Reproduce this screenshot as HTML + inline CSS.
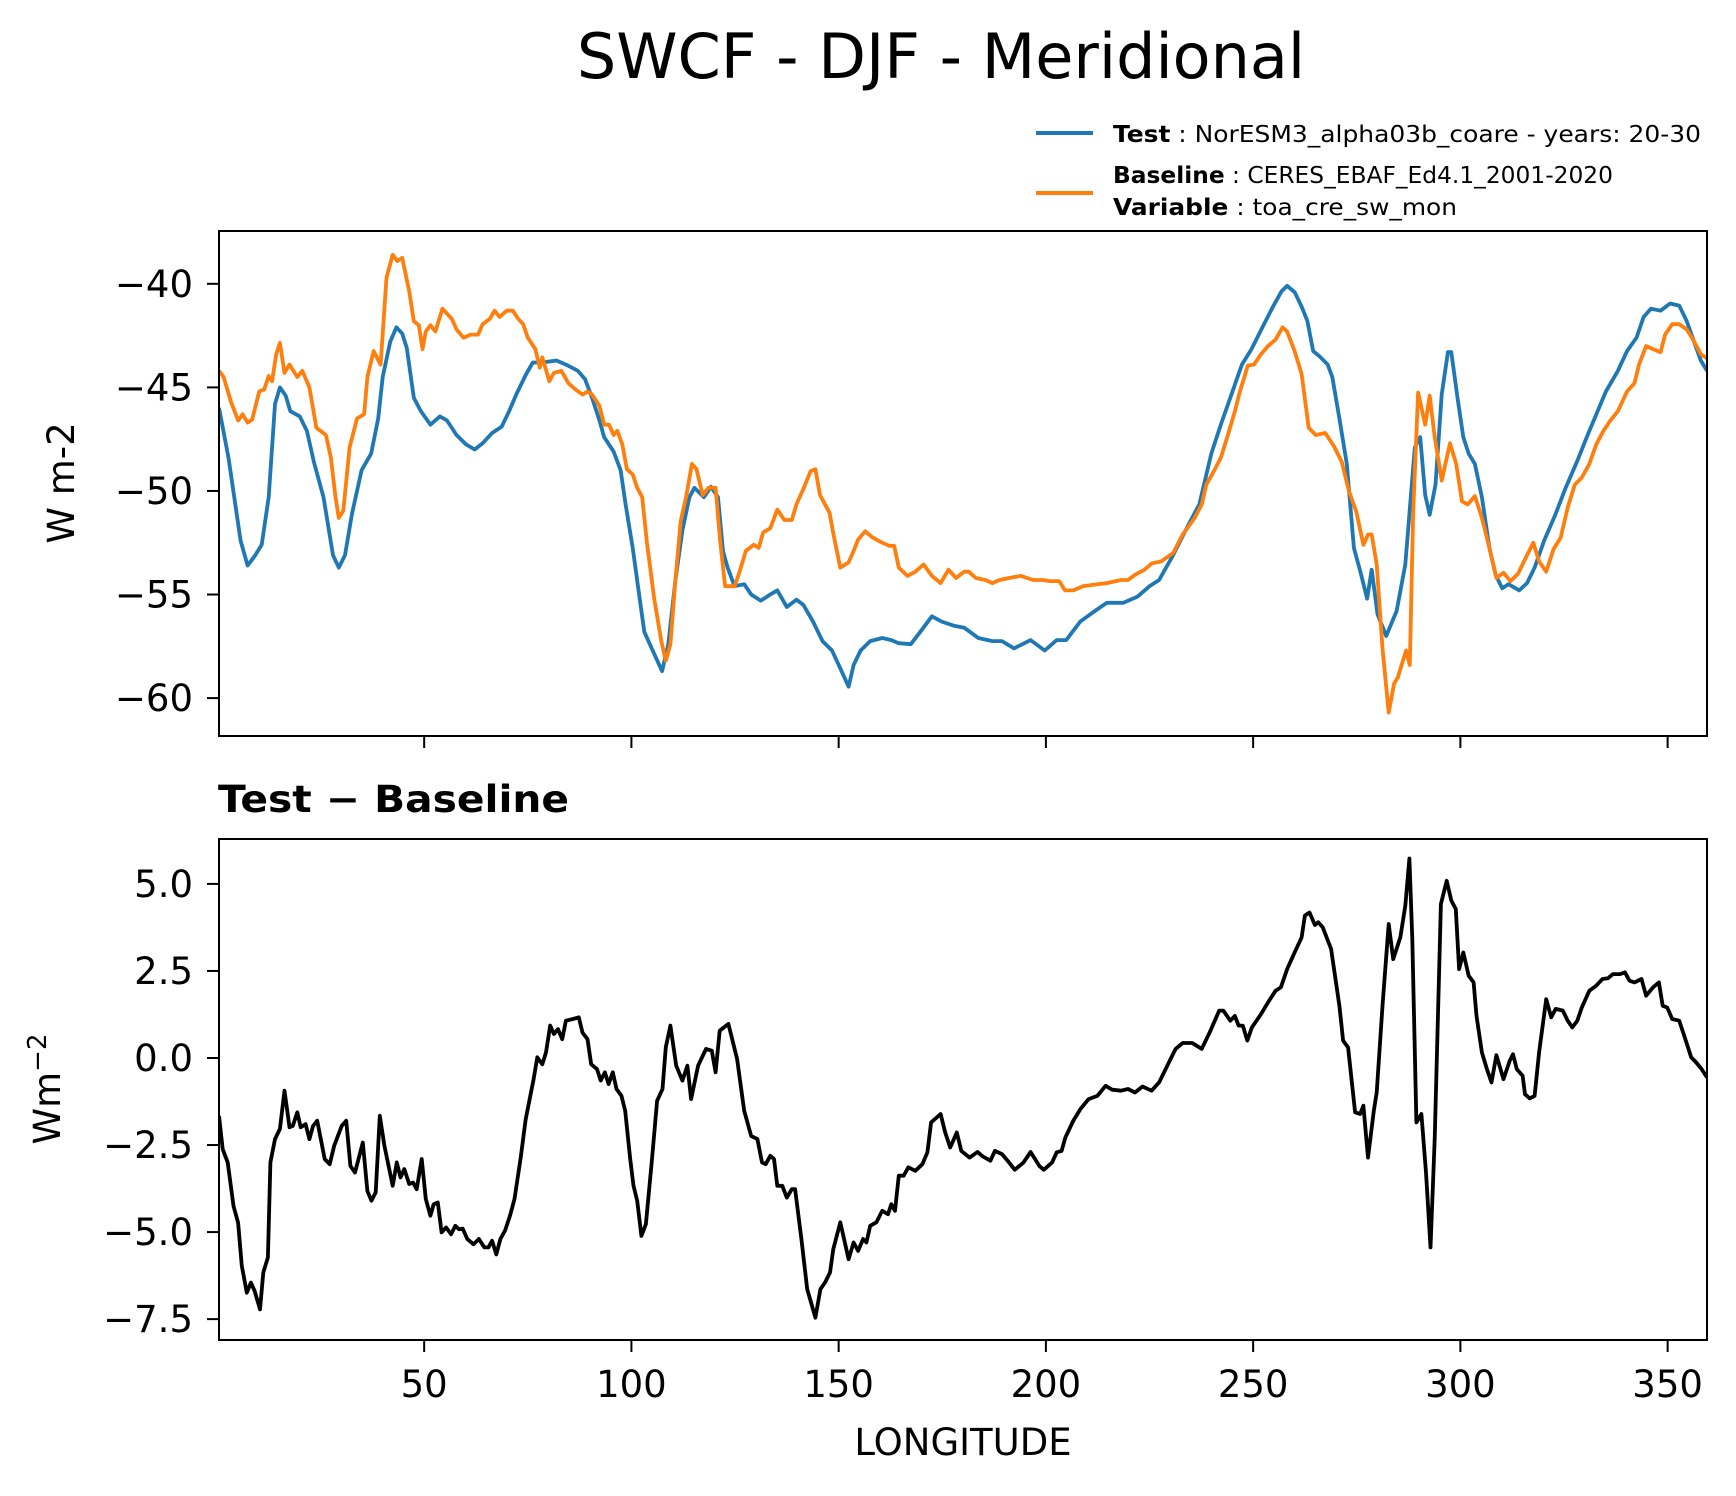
<!DOCTYPE html>
<html><head><meta charset="utf-8"><style>
html,body{margin:0;padding:0;background:#fff;}
svg{display:block;font-family:"DejaVu Sans","Liberation Sans",sans-serif;}
</style></head><body>
<svg id="fig" width="1736" height="1496" viewBox="0 0 1736 1496" xmlns="http://www.w3.org/2000/svg">
<rect width="1736" height="1496" fill="#fff"/>
<text x="941" y="78" font-size="62" text-anchor="middle">SWCF - DJF - Meridional</text>
<g>
<line x1="1036" y1="133" x2="1093" y2="133" stroke="#1f77b4" stroke-width="4"/>
<line x1="1036" y1="193" x2="1093" y2="193" stroke="#ff7f0e" stroke-width="4"/>
<text x="1113" y="142" font-size="23" textLength="588" lengthAdjust="spacingAndGlyphs"><tspan font-weight="bold">Test</tspan> : NorESM3_alpha03b_coare - years: 20-30</text>
<text x="1113" y="183" font-size="23" textLength="500" lengthAdjust="spacingAndGlyphs"><tspan font-weight="bold">Baseline</tspan> : CERES_EBAF_Ed4.1_2001-2020</text>
<text x="1113" y="215" font-size="23" textLength="344" lengthAdjust="spacingAndGlyphs"><tspan font-weight="bold">Variable</tspan> : toa_cre_sw_mon</text>
</g>
<g id="topPanel"></g>
<g id="botPanel"></g>
<text x="218" y="812" font-size="37" font-weight="bold" textLength="351" lengthAdjust="spacingAndGlyphs">Test − Baseline</text>
<text transform="translate(74,483) rotate(-90)" font-size="37" text-anchor="middle">W m-2</text>
<text transform="translate(60,1089) rotate(-90)" font-size="37" text-anchor="middle">Wm<tspan dy="-14" font-size="26">−2</tspan></text>
<text x="963" y="1455" font-size="37" text-anchor="middle">LONGITUDE</text>
</svg>
<script>
const testLon=[0.5,2.8,5.7,7.4,9.1,10.8,12.5,14,15.2,16.6,17.7,20,21.7,23.4,25.7,28,29.4,30.9,32.6,34.9,37.2,38.9,40,41.8,43.3,44.7,45.8,47.5,49.2,51.5,53.8,55.5,57.8,60.1,62.2,64.1,66.4,68.7,70.5,72.2,74.5,76.2,78.5,81.9,84.2,87.1,88.8,90.5,92.3,93.4,95.7,97.4,98.6,100.3,102,103.1,104.9,107.4,108.9,110.6,112.3,114,115.2,117.5,119.2,120.9,122.1,123.2,124.9,127.2,128.9,131.2,133.5,135.2,137.5,139.8,141.5,143.8,146.1,148.4,150.7,152.4,153.6,155.3,157.6,160.5,162.7,164.5,167.4,169.7,172.5,174.8,177.7,180.3,183.7,187.1,189.4,192.3,196.3,199.7,202.6,204.9,208.3,211.8,214.7,218.7,222.1,225,227.3,230.7,234.2,237,239.9,242.2,244.5,247.3,249.6,252.5,254.8,256.9,258.2,260,261.7,263.1,264.5,266,268,269.1,270.8,272.6,274.3,276,277.5,278.6,280,282.1,284.6,286.7,289,290.3,291.5,292.6,294,295.5,297,297.8,299.3,300.7,302,303.5,305.2,307,308.5,310.1,311.6,314.2,316.1,317.9,320.2,323,325.3,328.2,330.5,332.8,335.1,338,340.2,342.5,344.2,346,348.3,350.6,352.8,354.6,356.3,358,359.5];
const testVal=[-45.98,-48.4,-52.4,-53.6,-53.15,-52.6,-50.3,-45.8,-45.0,-45.4,-46.15,-46.4,-47.1,-48.6,-50.3,-53.1,-53.7,-53.1,-51.1,-49.0,-48.2,-46.5,-44.5,-42.8,-42.1,-42.4,-43.1,-45.5,-46.15,-46.8,-46.4,-46.6,-47.3,-47.75,-48.0,-47.7,-47.2,-46.9,-46.15,-45.35,-44.4,-43.8,-43.8,-43.7,-43.9,-44.2,-44.6,-45.5,-46.6,-47.4,-48.1,-49.0,-50.65,-52.75,-55.2,-56.8,-57.6,-58.7,-57.4,-54.35,-51.9,-50.3,-49.85,-50.3,-49.8,-50.3,-52.9,-53.7,-54.6,-54.5,-55.0,-55.3,-55.0,-54.8,-55.6,-55.25,-55.5,-56.3,-57.25,-57.7,-58.7,-59.45,-58.4,-57.7,-57.25,-57.1,-57.2,-57.35,-57.4,-56.8,-56.05,-56.3,-56.5,-56.6,-57.1,-57.25,-57.25,-57.6,-57.2,-57.7,-57.2,-57.2,-56.3,-55.8,-55.4,-55.4,-55.1,-54.6,-54.3,-53.1,-51.7,-50.65,-48.2,-46.8,-45.5,-43.9,-43.15,-42.0,-41.1,-40.35,-40.1,-40.4,-41.1,-41.8,-43.25,-43.5,-43.9,-44.5,-46.5,-48.7,-52.75,-54.0,-55.2,-53.8,-55.95,-57.0,-55.8,-53.55,-47.9,-47.4,-50.2,-51.15,-49.7,-45.35,-43.3,-43.3,-45.5,-47.4,-48.2,-48.7,-50.3,-52.75,-54.05,-54.7,-54.5,-54.8,-54.45,-53.7,-52.4,-51.1,-49.9,-48.55,-47.4,-46.3,-45.2,-44.2,-43.25,-42.6,-41.6,-41.2,-41.3,-40.95,-41.05,-41.8,-42.75,-43.7,-44.2];
const baseLon=[0.5,1.6,3.4,5.1,6.2,7.4,8.5,10.2,11.4,12.5,13.3,14.3,15.2,16.3,17.5,19.4,20.6,22.3,24,26.3,27.5,28.6,29.4,30.5,32,33.8,35.5,36.3,37.8,39.5,40.9,42.4,43.5,44.7,46.4,47.5,48.7,49.6,50.4,51.5,52.7,54.4,56.7,57.8,59.5,61.2,63,64.1,65.8,67,68.2,69.9,71.4,72.7,73.9,75,76.8,77.9,78.5,80.2,81.3,83.1,84.8,86.5,88.2,89.4,90.5,92.3,93.4,94.6,95.7,96.6,97.8,98.9,100.3,101.4,102.6,103.7,105.5,107.2,108.3,109.4,110.6,111.9,113.2,114.6,115.7,117.2,118.6,120.3,121.4,122.6,124.9,126.1,127.6,129.5,130.7,131.8,133.5,135.2,136.9,138.7,139.8,141.5,143.2,144.4,145.5,147.8,148.9,150.4,152.4,153.6,154.7,156.4,158.2,160.5,162.2,163.4,164.5,166.6,168.5,170.5,172.5,174.6,176.5,178.3,180.3,181.4,183.1,185.4,187.1,188.8,191.1,194,196.9,199.2,200.9,203.2,204.6,206.6,208.9,212.4,214.7,218.1,219.8,221.5,223.8,225.5,227.8,230.7,233,235.9,237.6,238.7,240.5,242.2,243.9,245.6,246.8,247.9,248.7,250.2,251.9,253.6,255.4,257.1,258.2,260,261.7,263.4,265.1,267.4,269.5,271.4,273.1,274.9,276.6,277.7,278.6,279.8,281.2,282.7,284,284.9,286.9,287.8,288.6,289.8,291.5,292.6,293.8,295.5,297.5,299,300.4,301.8,303.5,305.2,307,308.7,310.4,312.1,313.9,315.6,317.6,319,320.7,322.5,324.2,325.9,327.6,329.3,331.1,332.8,334.5,336.2,338,340.2,342,343.1,344.8,346.5,348.3,349.4,351.1,352.8,354.6,356.3,358,359.5];
const baseVal=[-44.2,-44.5,-45.7,-46.6,-46.3,-46.7,-46.55,-45.2,-45.1,-44.45,-44.7,-43.4,-42.85,-44.3,-43.9,-44.5,-44.2,-45.0,-46.95,-47.3,-48.4,-50.3,-51.3,-50.95,-47.9,-46.5,-46.3,-44.5,-43.25,-43.9,-39.7,-38.6,-38.9,-38.75,-40.35,-41.8,-42.0,-43.15,-42.3,-42.0,-42.3,-41.2,-41.7,-42.2,-42.6,-42.45,-42.45,-41.95,-41.7,-41.3,-41.6,-41.3,-41.3,-41.7,-41.95,-42.6,-43.15,-44.05,-43.55,-44.7,-44.3,-44.2,-44.8,-45.1,-45.35,-45.2,-45.35,-45.9,-46.8,-46.8,-47.3,-47.1,-47.75,-48.95,-49.2,-49.85,-50.3,-52.4,-55.2,-57.25,-58.2,-57.4,-54.35,-51.45,-50.3,-48.7,-48.95,-50.2,-49.85,-49.85,-52.4,-54.6,-54.6,-53.9,-52.9,-52.6,-52.75,-52.0,-51.8,-50.9,-51.4,-51.4,-50.65,-49.9,-49.05,-48.95,-50.2,-51.05,-52.25,-53.7,-53.45,-52.9,-52.35,-51.95,-52.25,-52.5,-52.65,-52.65,-53.7,-54.1,-53.9,-53.55,-54.1,-54.45,-53.8,-54.2,-53.9,-53.9,-54.2,-54.3,-54.45,-54.3,-54.2,-54.1,-54.3,-54.3,-54.35,-54.35,-54.8,-54.8,-54.6,-54.5,-54.45,-54.3,-54.3,-54.05,-53.8,-53.5,-53.4,-53.0,-52.1,-51.3,-50.65,-49.7,-49.05,-48.4,-47.3,-46.15,-45.2,-44.5,-43.95,-43.9,-43.4,-43.0,-42.7,-42.1,-42.3,-43.25,-44.35,-46.95,-47.3,-47.2,-47.85,-48.6,-50.0,-51.0,-52.6,-52.1,-52.1,-53.55,-57.6,-60.7,-59.3,-59.0,-57.7,-58.4,-51.15,-45.25,-46.8,-45.4,-47.4,-49.5,-47.7,-48.7,-50.5,-50.65,-50.25,-51.3,-52.75,-54.2,-53.95,-54.35,-54.0,-53.3,-52.5,-53.4,-53.9,-52.8,-52.25,-50.8,-49.7,-49.35,-48.7,-47.75,-47.1,-46.6,-46.15,-45.2,-44.8,-43.9,-43.0,-43.15,-43.3,-42.45,-41.95,-41.95,-42.2,-42.75,-43.4,-43.6];
const diffLon=[0.5,1.4,2.6,4,5.1,6,7.2,8.2,9.1,10.4,11.2,12.3,12.9,14,15.2,16.3,17.5,18.3,19.4,20.2,21.4,22.3,23.2,24.2,26,27.2,28.3,30.1,31.2,32.2,33.3,35.2,36.3,37.3,38.3,39.3,40.4,42.4,43.4,44.3,45.2,46.4,47.3,48.2,49.4,50.4,51.5,52.3,53.3,54.2,55.3,56.5,57.5,58.4,59.3,60.4,61.9,63.2,64.5,65.5,66.4,67.4,68.4,69.5,70.7,71.8,73.3,74.5,75.6,76.4,77.3,78.5,79.4,80.4,81.3,82.3,83.3,84.2,85.9,87.3,88.2,89.4,90.3,91.7,92.6,93.6,94.5,95.5,96.4,97.6,98.5,99.7,100.5,101.4,102.4,103.5,104.9,106.2,107.5,108.3,109.4,110.8,112.3,113.5,114.4,116.1,118,119.4,120.3,121.3,123.4,125.5,127.2,128.9,130.4,131.5,132.4,133.5,134.4,135.2,136.4,137.5,138.7,139.5,141,142.4,144.4,145.6,146.7,147.9,148.7,150.4,152.4,153.6,154.7,155.9,156.7,157.6,159.1,160.5,161.9,162.7,163.6,164.5,165.7,166.8,168.5,170.2,171.4,172.3,174.6,175.7,176.9,178.5,179.6,181.6,183.5,184.8,186.6,187.7,189.4,191.1,192.5,194.6,196.3,198.4,199.5,201.5,202.6,203.8,204.7,206.6,208.3,210.3,212.4,214.4,216,218.1,219.8,221.5,223.3,225.5,227.3,229.3,231.3,233,235.3,237.6,239.5,241.8,242.8,244.5,245.6,246.5,247.5,248.6,249.7,251.9,253.6,255.4,256.7,258.2,260,261.7,262.5,263.6,264.9,265.7,266.8,268.8,270.8,271.7,272.9,274.6,275.8,276.6,277.7,279.1,279.8,281.2,282.7,283.8,285.5,286.7,287.7,288.4,289.4,290.6,291.7,292.8,293.8,295.3,296.7,297.8,298.9,299.7,300.7,302,303.2,303.9,305.2,306.4,307.5,308.7,310.4,311.9,312.7,313.6,315,315.6,316.7,317.9,319,320.7,321.9,323,324.7,325.9,327,328.2,329.3,331.1,332.8,334.3,335.6,336.8,338.5,339.7,340.8,342,343.7,344.8,346.5,347.9,348.8,349.9,351.1,352.8,354,355.7,356.9,358.2,359.5];
const diffVal=[-1.66,-2.62,-3.0,-4.25,-4.73,-5.97,-6.74,-6.45,-6.69,-7.22,-6.16,-5.73,-3.0,-2.33,-2.04,-0.94,-1.99,-1.95,-1.56,-1.99,-1.9,-2.33,-1.95,-1.8,-2.9,-3.05,-2.52,-1.95,-1.8,-3.1,-3.29,-2.43,-3.82,-4.1,-3.86,-1.66,-2.52,-3.67,-3.0,-3.43,-3.19,-3.62,-3.58,-3.77,-2.9,-4.05,-4.53,-4.2,-4.15,-5.01,-4.87,-5.06,-4.82,-4.92,-4.9,-5.2,-5.35,-5.2,-5.44,-5.44,-5.25,-5.64,-5.2,-4.96,-4.53,-4.05,-2.86,-1.76,-1.09,-0.61,0.02,-0.18,0.16,0.93,0.69,0.83,0.54,1.07,1.12,1.17,0.73,0.54,-0.18,-0.32,-0.65,-0.41,-0.75,-0.41,-0.89,-1.09,-1.52,-2.9,-3.67,-4.1,-5.11,-4.77,-3.0,-1.23,-0.89,0.31,0.93,-0.22,-0.65,-0.22,-1.18,-0.22,0.26,0.21,-0.41,0.78,0.98,-0.03,-1.52,-2.24,-2.33,-3.0,-3.05,-2.81,-2.9,-3.67,-3.67,-4.01,-3.77,-3.77,-5.2,-6.64,-7.46,-6.64,-6.45,-6.16,-5.49,-4.72,-5.78,-5.3,-5.54,-5.2,-5.3,-4.82,-4.72,-4.39,-4.49,-4.2,-4.39,-3.38,-3.38,-3.14,-3.24,-3.05,-2.71,-1.85,-1.61,-2.14,-2.57,-2.14,-2.67,-2.86,-2.7,-2.83,-2.95,-2.67,-2.76,-3.0,-3.21,-3.0,-2.7,-3.1,-3.21,-3.0,-2.71,-2.67,-2.28,-1.8,-1.47,-1.18,-1.09,-0.8,-0.91,-0.94,-0.89,-0.99,-0.82,-0.94,-0.7,-0.22,0.26,0.43,0.43,0.26,0.73,1.36,1.36,1.07,1.21,0.93,0.93,0.5,0.88,1.26,1.6,1.93,2.03,2.55,3.03,3.46,4.09,4.18,3.82,3.9,3.75,3.13,1.5,0.5,0.3,-1.56,-1.61,-1.37,-2.86,-1.52,-0.99,1.5,3.85,2.84,3.46,4.37,5.73,3.42,-1.85,-1.61,-3.29,-5.44,-2.33,4.42,5.09,4.52,4.28,2.55,3.03,2.36,2.17,1.21,0.16,-0.32,-0.7,0.08,-0.61,-0.08,0.11,-0.32,-0.51,-1.04,-1.16,-1.09,0.16,1.69,1.17,1.41,1.36,1.07,0.88,1.07,1.45,1.93,2.08,2.27,2.29,2.41,2.41,2.46,2.22,2.17,2.27,1.79,2.03,2.17,1.5,1.45,1.12,1.07,0.64,0.02,-0.13,-0.32,-0.56];
const xTicks=[50,100,150,200,250,300,350];
const xTickLabels=["50","100","150","200","250","300","350"];
const topYTicks=[-40,-45,-50,-55,-60];
const topYTickLabels=["−40","−45","−50","−55","−60"];
const botYTicks=[5.0,2.5,0.0,-2.5,-5.0,-7.5];
const botYTickLabels=["5.0","2.5","0.0","−2.5","−5.0","−7.5"];

const NS="http://www.w3.org/2000/svg";
const X0=219,X1=1707,LON0=0.5,LON1=359.5;
function xs(v){return X0+(v-LON0)/(LON1-LON0)*(X1-X0);}
function mkY(y0,y1,vTop,vBot){return v=>y0+(vTop-v)/(vTop-vBot)*(y1-y0);}
const topYScale=mkY(231,736,-37.45,-61.83);
const botYScale=mkY(839,1340,6.29,-8.1);
function el(tag,attrs,parent){const e=document.createElementNS(NS,tag);for(const k in attrs)e.setAttribute(k,attrs[k]);parent.appendChild(e);return e;}
function drawLine(g,lons,vals,ys,color,name){
  let d="";for(let i=0;i<lons.length;i++){d+=(i?"L":"M")+xs(lons[i]).toFixed(1)+","+ys(vals[i]).toFixed(1);}
  const p=el("path",{d:d,fill:"none",stroke:color,"stroke-width":"3.8","stroke-linejoin":"round","clip-path":"url(#"+g.id+"clip)"},g);
  
  
}
function drawAxes(g,y0,y1,ys,yt,ytl,showXLabels,prefix){
  const defs=el("defs",{},g);
  const cp=el("clipPath",{id:g.id+"clip"},defs);
  el("rect",{x:X0,y:y0,width:X1-X0,height:y1-y0},cp);
  for(let i=0;i<yt.length;i++){
    const y=ys(yt[i]);
    const t=el("line",{x1:X0-12,x2:X0,y1:y,y2:y,stroke:"#000","stroke-width":"2"},g);
    
    
    const tx=el("text",{x:X0-26,y:y+13,"font-size":"37","text-anchor":"end"},g);
    tx.textContent=ytl[i];
    
    
  }
  for(let i=0;i<xTicks.length;i++){
    const x=xs(xTicks[i]);
    const t=el("line",{x1:x,x2:x,y1:y1,y2:y1+12,stroke:"#000","stroke-width":"2"},g);
    
    
    if(showXLabels){
      const tx=el("text",{x:x,y:1397,"font-size":"37","text-anchor":"middle"},g);
      tx.textContent=xTickLabels[i];
      
      
    }
  }
}
function drawFrame(g,y0,y1,prefix){
  const r=el("rect",{x:X0,y:y0,width:X1-X0,height:y1-y0,fill:"none",stroke:"#000","stroke-width":"2"},g);
  
  
}
const topG=document.getElementById("topPanel");
drawAxes(topG,231,736,topYScale,topYTicks,topYTickLabels,false,"top");
drawLine(topG,testLon,testVal,topYScale,"#1f77b4","test-line");
drawLine(topG,baseLon,baseVal,topYScale,"#ff7f0e","baseline-line");
drawFrame(topG,231,736,"top");
const botG=document.getElementById("botPanel");
drawAxes(botG,839,1340,botYScale,botYTicks,botYTickLabels,true,"bottom");
drawLine(botG,diffLon,diffVal,botYScale,"#000","difference-line");
drawFrame(botG,839,1340,"bottom");
</script>
</body></html>
